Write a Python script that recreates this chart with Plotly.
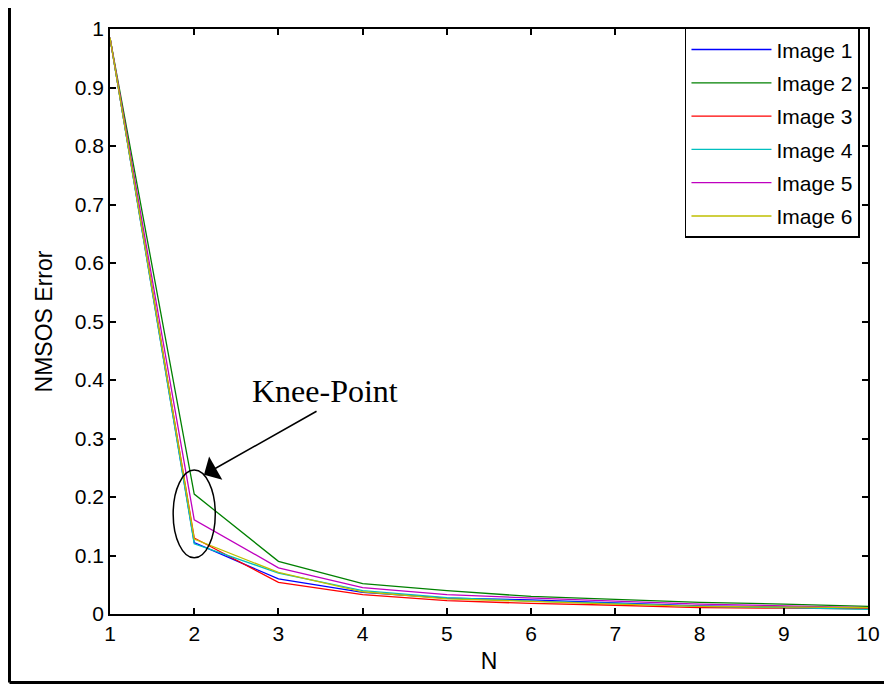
import plotly.graph_objects as go

N = [1, 2, 3, 4, 5, 6, 7, 8, 9, 10]
image1 = [0.985, 0.122, 0.060, 0.037, 0.027, 0.024, 0.019, 0.014, 0.012, 0.010]
image2 = [0.985, 0.205, 0.090, 0.052, 0.040, 0.030, 0.025, 0.020, 0.017, 0.013]
image3 = [0.985, 0.130, 0.054, 0.033, 0.023, 0.018, 0.015, 0.011, 0.010, 0.009]
image4 = [0.985, 0.120, 0.070, 0.040, 0.028, 0.022, 0.018, 0.013, 0.011, 0.008]
image5 = [0.985, 0.161, 0.079, 0.045, 0.033, 0.027, 0.022, 0.017, 0.014, 0.011]
image6 = [0.985, 0.128, 0.071, 0.038, 0.026, 0.021, 0.017, 0.013, 0.012, 0.011]

names = ["Image 1", "Image 2", "Image 3", "Image 4", "Image 5", "Image 6"]
series = [image1, image2, image3, image4, image5, image6]
colors = ["#0000ff", "#008000", "#ff0000", "#00bfbf", "#bf00bf", "#bfbf00"]

y_ticks = [0, 0.1, 0.2, 0.3, 0.4, 0.5, 0.6, 0.7, 0.8, 0.9, 1]
y_ticklabels = ["0", "0.1", "0.2", "0.3", "0.4", "0.5", "0.6", "0.7", "0.8", "0.9", "1"]

FONT = "Liberation Sans, Arial, sans-serif"
FS = 21

fig = go.Figure()
for name, vals, col in zip(names, series, colors):
    fig.add_trace(go.Scatter(x=N, y=vals, mode="lines", name=name,
                             legendgroup=name,
                             line=dict(color=col, width=1.3)))

# the page adds an 8px body margin; the figure is sized to compensate
fig.update_layout(
    width=884, height=679,
    margin=dict(l=102, r=24, t=9, b=73),
    paper_bgcolor="white", plot_bgcolor="white",
    font=dict(family=FONT, size=FS, color="black"),
    showlegend=True,
    legend=dict(
        x=0.9894, y=1.002, xanchor="right", yanchor="top",
        bgcolor="white", bordercolor="black", borderwidth=1.5,
        font=dict(family=FONT, size=FS, color="black"),
        itemwidth=80, tracegroupgap=3,
    ),
)

axis_common = dict(
    showgrid=False, zeroline=False, showline=True, linecolor="black",
    linewidth=1.5, mirror="ticks", ticks="inside", ticklen=6,
    tickcolor="black", tickwidth=1.5, ticklabeloverflow="allow",
    tickfont=dict(family=FONT, size=FS, color="black"),
)

fig.update_xaxes(range=[1, 10], tickvals=N, ticktext=[str(v) for v in N],
                 title=dict(text="N", standoff=9,
                            font=dict(family=FONT, size=23)),
                 **axis_common)
fig.update_yaxes(range=[0, 1], tickvals=y_ticks, ticktext=y_ticklabels,
                 title=dict(text="NMSOS Error", standoff=16,
                            font=dict(family=FONT, size=23)),
                 **axis_common)

# Knee-point ellipse
fig.add_shape(type="circle", xref="x", yref="y",
              x0=1.75, x1=2.25, y0=0.096, y1=0.246,
              line=dict(color="black", width=1.5))

# Arrow
fig.add_annotation(x=2.116, y=0.238, ax=3.47, ay=0.348,
                   xref="x", yref="y", axref="x", ayref="y",
                   text="", showarrow=True, arrowhead=1,
                   arrowsize=2.8, arrowwidth=1.6, arrowcolor="black")
# Label
fig.add_annotation(x=3.547, y=0.381, xref="x", yref="y",
                   text="Knee-Point", showarrow=False,
                   font=dict(family="Liberation Serif, Times New Roman, serif",
                             size=32, color="black"))

# Outer figure border (left and bottom)
fig.add_shape(type="line", xref="paper", yref="paper",
              x0=-0.1326, x1=-0.1326, y0=-0.1173, y1=1.04,
              line=dict(color="black", width=3))
fig.add_shape(type="line", xref="paper", yref="paper",
              x0=-0.1326, x1=1.04, y0=-0.1173, y1=-0.1173,
              line=dict(color="black", width=3))

fig.write_html("out.html")
